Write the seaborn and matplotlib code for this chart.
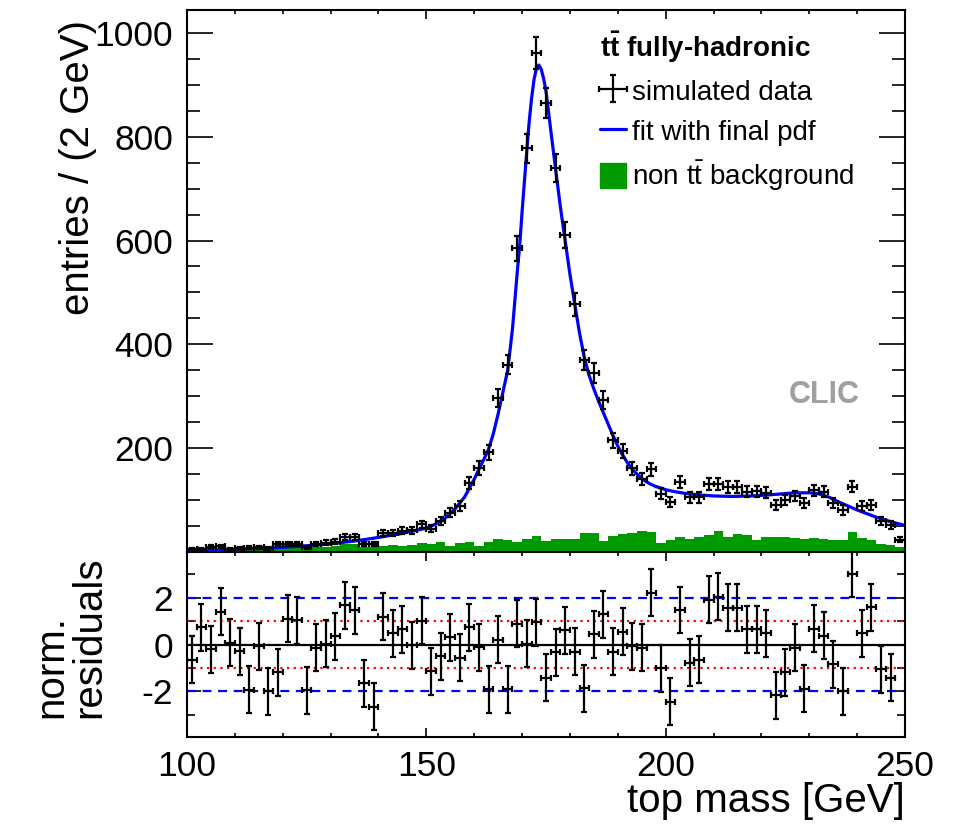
import numpy as np
import pandas as pd
import matplotlib
matplotlib.use("Agg")
import matplotlib.pyplot as plt
import seaborn as sns
from matplotlib.ticker import MultipleLocator, FixedLocator
from matplotlib.lines import Line2D
from matplotlib.patches import Patch

# ---------------- data ----------------
bin_centers = np.arange(101, 250, 2)

data_counts = [5, 6, 10, 11, 6, 7, 8, 9, 7, 15,
               16, 15, 9, 16, 18, 20, 29, 29, 15, 15,
               36, 36, 41, 42, 53, 45, 60, 76, 89, 133,
               162, 192, 297, 361, 585, 778, 961, 865, 740, 610,
               477, 370, 345, 293, 215, 195, 161, 140, 159, 112,
               97, 134, 105, 105, 131, 131, 125, 125, 116, 117,
               114, 91, 100, 108, 94, 119, 116, 95, 81, 126,
               89, 91, 60, 52, 24]

bkg_counts = [3, 4, 9, 8, 4, 5, 5, 6, 5, 9,
              10, 11, 7, 9, 10, 12, 15, 15, 10, 9,
              12, 13, 12, 14, 17, 15, 20, 12, 18, 20,
              12, 20, 25, 23, 20, 26, 30, 22, 26, 26,
              26, 36, 36, 22, 31, 34, 37, 40, 38, 18,
              23, 29, 25, 28, 33, 40, 28, 35, 33, 24,
              28, 28, 29, 27, 26, 27, 26, 24, 23, 39,
              27, 23, 15, 13, 9]

residuals = [-0.64, 0.74, -0.21, 1.39, 0.07, -0.28, -1.93, -0.07, -1.99, -1.18,
             1.09, 1.04, -1.94, -0.14, 0.03, 0.35, 1.67, 1.46, -1.66, -2.65,
             1.18, 0.47, 0.64, -0.03, 1.02, -1.13, -0.50, 0.31, -0.57, 0.74,
             -0.11, -1.91, 0.21, -1.91, 0.88, 0.04, 0.95, -1.42, -0.33, 0.60,
             -0.31, -1.87, 0.43, 1.28, -0.31, 0.54, -0.07, -0.14, 2.20, -1.02,
             -2.44, 1.47, -0.78, -0.64, 1.91, 2.03, 1.56, 1.56, 0.64, 0.64,
             0.47, -2.16, -1.18, -0.14, -1.89, 0.68, 0.38, -0.85, -1.99, 3.02,
             0.47, 1.59, -1.06, -1.42, -5.2]

fit_mass = [100, 105, 110, 115, 120, 125, 130, 135, 140, 145,
            150, 152, 154, 156, 158, 160, 161, 162, 163, 164,
            165, 166, 167, 168, 169, 169.5, 170, 170.5, 171, 171.5,
            172, 172.5, 173, 173.5, 174, 174.5, 175, 176, 177, 178,
            179, 180, 181, 182, 183, 184, 185, 186, 187, 188,
            189, 190, 191, 192, 193, 194, 195, 196, 197, 198,
            200, 202, 204, 207, 210, 214, 218, 220, 223, 227,
            230, 232, 234, 236, 238, 240, 242, 244, 246, 248, 250]
fit_value = [2, 3, 5, 7, 9, 12, 16, 21, 28, 36,
             46, 54, 66, 83, 106, 140, 160, 178, 198, 228,
             266, 308, 350, 430, 540, 590, 655, 715, 775, 830,
             875, 910, 932, 938, 930, 912, 888, 812, 738, 665,
             600, 535, 478, 422, 375, 340, 314, 290, 268, 246,
             224, 204, 187, 172, 160, 150, 142, 135, 130, 126,
             120, 116, 113, 110, 108, 107, 108, 109, 111, 114,
             114, 112, 106, 97, 89, 81, 74, 67, 61, 56, 51]

y_ticks_top = [200, 400, 600, 800, 1000]
y_ticks_res = [-2, 0, 2]
x_ticks = [100, 150, 200, 250]

GREEN = "#009a00"
BLUE = "#0000ff"

# ---------------- style ----------------
sns.set_style("ticks")
plt.rcParams["font.family"] = ["Liberation Sans", "DejaVu Sans"]
plt.rcParams["mathtext.fontset"] = "custom"
plt.rcParams["mathtext.rm"] = "Liberation Sans"
plt.rcParams["mathtext.bf"] = "Liberation Sans:bold"
plt.rcParams["axes.linewidth"] = 1.5
plt.rcParams["axes.unicode_minus"] = False
for k in ("text.color", "axes.labelcolor", "xtick.color", "ytick.color",
          "axes.edgecolor"):
    plt.rcParams[k] = "black"

W, H = 960, 827
fig = plt.figure(figsize=(W / 100, H / 100), dpi=100)
L, R = 187 / W, 905 / W
ax1 = fig.add_axes([L, 1 - 552 / H, R - L, (552 - 10) / H])
ax2 = fig.add_axes([L, 1 - 737 / H, R - L, (737 - 552) / H])

bkg_df = pd.DataFrame({"mass": bin_centers.astype(float),
                       "bkg": np.array(bkg_counts, dtype=float)})
fit_df = pd.DataFrame({"mass": fit_mass, "fit": fit_value})

# ---------------- top panel ----------------
sns.histplot(data=bkg_df, x="mass", weights="bkg", binwidth=2,
             binrange=(100, 250), element="step", fill=True, color=GREEN,
             alpha=1, linewidth=0, ax=ax1, zorder=1)
sns.lineplot(data=fit_df, x="mass", y="fit", color=BLUE, linewidth=2.3,
             ax=ax1, zorder=2)
data_arr = np.array(data_counts, dtype=float)
eb = ax1.errorbar(bin_centers, data_arr, yerr=np.sqrt(data_arr), xerr=1,
                  fmt="none", ecolor="black", elinewidth=1.6, capsize=2.2,
                  capthick=1.6, zorder=3)

ax1.set_xlim(100, 250)
ax1.set_ylim(0, 1044)
ax1.set_xlabel("")
ax1.set_ylabel("")
ax1.yaxis.set_major_locator(FixedLocator(y_ticks_top))
ax1.yaxis.set_minor_locator(MultipleLocator(50))
ax1.xaxis.set_major_locator(MultipleLocator(50))
ax1.xaxis.set_minor_locator(MultipleLocator(10))
ax1.tick_params(axis="x", which="both", direction="in", top=True, bottom=True,
                labelbottom=False)
ax1.tick_params(axis="x", which="major", length=6.5, width=1.2)
ax1.tick_params(axis="x", which="minor", length=3, width=1.2)
ax1.tick_params(axis="y", which="both", direction="in", left=True, right=True,
                labelsize=25.5, pad=10)
ax1.tick_params(axis="y", which="major", length=19, width=1.2)
ax1.tick_params(axis="y", which="minor", length=9.5, width=1.2)

fig.text(824 / W, 1 - 395 / H, "CLIC", color="#a0a0a0", fontsize=22,
         fontweight="bold", ha="center", va="center")

handles = [eb,
           Line2D([0], [0], color=BLUE, lw=2.3),
           Patch(facecolor=GREEN, edgecolor=GREEN)]
labels = ["simulated data", "fit with final pdf",
          r"non t$\bar{\mathrm{t}}$ background"]
leg = ax1.legend(handles, labels, title=r"$\mathbf{t\bar{t}}$ fully-hadronic",
                 loc="upper left", bbox_to_anchor=(600 / W, 1 - 30 / H),
                 bbox_transform=fig.transFigure, frameon=False, fontsize=20,
                 title_fontproperties={"weight": "bold", "size": 20},
                 alignment="left", handlelength=0.95, handleheight=1.0,
                 handletextpad=0.2, labelspacing=0.45, borderpad=0,
                 borderaxespad=0)

# ---------------- residual panel ----------------
ax2.axhline(0, color="black", lw=1.6, zorder=1)
for v in (1, -1):
    ax2.axhline(v, color="red", lw=1.6, ls=(0, (1, 2)), zorder=1)
for v in (2, -2):
    ax2.axhline(v, color=BLUE, lw=1.6, ls=(0, (4, 3)), zorder=1)
ax2.errorbar(bin_centers, residuals, yerr=1, xerr=1, fmt="none",
             ecolor="black", elinewidth=1.6, capsize=2.2, capthick=1.6,
             zorder=3)
ax2.set_xlim(100, 250)
ax2.set_ylim(-3.94, 3.94)
ax2.yaxis.set_major_locator(FixedLocator(y_ticks_res))
ax2.yaxis.set_minor_locator(FixedLocator([-3, -1, 1, 3]))
ax2.xaxis.set_major_locator(FixedLocator(x_ticks))
ax2.xaxis.set_minor_locator(MultipleLocator(10))
ax2.tick_params(axis="x", which="both", direction="in", top=True, bottom=True,
                labelsize=25.5, pad=9)
ax2.tick_params(axis="x", which="major", length=6.5, width=1.2)
ax2.tick_params(axis="x", which="minor", length=3, width=1.2)
ax2.tick_params(axis="y", which="both", direction="in", left=True, right=True,
                labelsize=25.5, pad=10)
ax2.tick_params(axis="y", which="major", length=10, width=1.2)
ax2.tick_params(axis="y", which="minor", length=6, width=1.2)

# ---------------- titles ----------------
fig.text(78 / W, 1 - 20 / H, "entries / (2 GeV)", rotation=90, fontsize=29,
         ha="center", va="top")
fig.text(70 / W, 1 - 718 / H, "norm.\nresiduals", rotation=90, fontsize=29,
         ha="center", va="bottom", multialignment="left", linespacing=1.0)
fig.text(905 / W, 1 - 812 / H, "top mass [GeV]", fontsize=29, ha="right",
         va="baseline")

fig.savefig("out.png", dpi=100)
